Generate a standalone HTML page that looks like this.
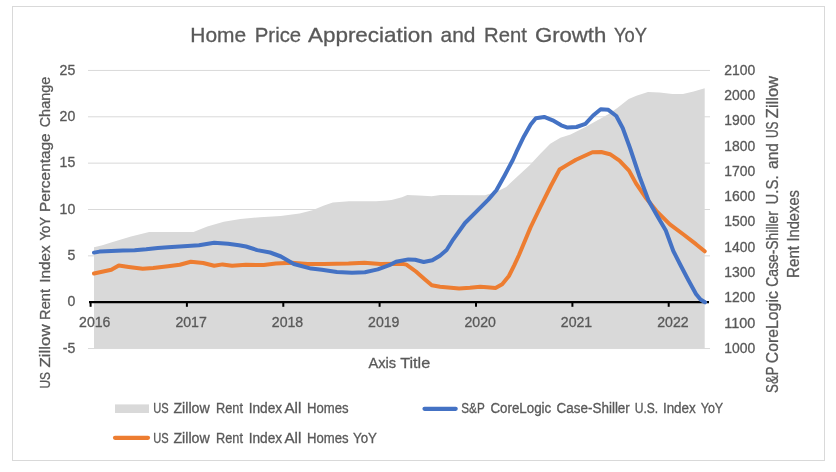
<!DOCTYPE html>
<html><head><meta charset="utf-8"><style>
html,body{margin:0;padding:0;background:#fff;width:836px;height:472px;overflow:hidden}
svg{display:block;will-change:transform}
</style></head><body><svg width="836" height="472" viewBox="0 0 836 472"><rect x="12.5" y="6.5" width="812" height="454" fill="#fff" stroke="#d9d9d9" stroke-width="1"/><line x1="88" y1="70.45" x2="710" y2="70.45" stroke="#d9d9d9" stroke-width="1"/><line x1="88" y1="116.80" x2="710" y2="116.80" stroke="#d9d9d9" stroke-width="1"/><line x1="88" y1="163.15" x2="710" y2="163.15" stroke="#d9d9d9" stroke-width="1"/><line x1="88" y1="209.50" x2="710" y2="209.50" stroke="#d9d9d9" stroke-width="1"/><line x1="88" y1="255.85" x2="710" y2="255.85" stroke="#d9d9d9" stroke-width="1"/><line x1="88" y1="348.55" x2="710" y2="348.55" stroke="#d9d9d9" stroke-width="1"/><path d="M94,348 L94.0,247.2 102.4,245.2 111.9,242.2 131.0,236.4 149.2,232.1 166.0,232.0 193.5,232.0 207.3,226.5 223.8,221.7 240.4,219.0 259.9,217.2 280.6,215.9 299.6,213.5 312.4,210.3 324.0,205.6 332.8,202.6 349.0,201.2 376.0,201.2 386.9,200.5 391.5,200.1 402.0,197.2 407.3,195.1 418.7,195.5 431.7,196.2 440.3,195.1 485.0,195.2 496.0,192.0 506.2,187.0 516.3,177.6 529.9,164.9 540.1,153.9 550.2,143.7 560.4,137.8 570.6,134.4 585.4,127.0 608.3,114.3 617.3,107.9 628.7,99.0 636.4,95.7 648.0,92.0 659.7,92.5 672.4,94.1 683.0,93.9 693.6,91.4 704.7,88.2 L704.7,348 Z" fill="#d9d9d9"/><line x1="89" y1="302.1" x2="709" y2="302.1" stroke="#000" stroke-width="2.3"/><line x1="90.6" y1="301" x2="90.6" y2="306.8" stroke="#000" stroke-width="2"/><line x1="186.9" y1="301" x2="186.9" y2="306.8" stroke="#000" stroke-width="2"/><line x1="283.3" y1="301" x2="283.3" y2="306.8" stroke="#000" stroke-width="2"/><line x1="379.6" y1="301" x2="379.6" y2="306.8" stroke="#000" stroke-width="2"/><line x1="476.0" y1="301" x2="476.0" y2="306.8" stroke="#000" stroke-width="2"/><line x1="572.4" y1="301" x2="572.4" y2="306.8" stroke="#000" stroke-width="2"/><line x1="668.7" y1="301" x2="668.7" y2="306.8" stroke="#000" stroke-width="2"/><polyline points="94.0,273.5 111.3,269.8 118.8,265.5 128.7,266.9 142.7,268.7 153.2,268.0 168.0,266.2 179.8,264.8 190.8,261.7 203.2,263.0 214.2,265.8 222.5,264.4 232.1,265.8 246.0,264.8 263.7,265.1 275.8,263.6 291.7,262.8 307.6,263.9 324.0,263.9 348.5,263.6 364.4,262.8 380.3,264.1 402.0,263.8 406.4,264.6 415.9,271.5 424.4,278.9 431.8,285.3 440.0,286.8 459.1,288.6 470.0,287.8 480.2,286.8 487.0,287.2 495.5,288.0 502.2,284.3 508.9,276.0 514.2,265.3 519.0,255.0 530.5,227.5 540.6,206.5 550.8,186.0 559.6,169.5 567.2,164.9 576.0,159.8 592.4,152.3 601.3,152.0 610.0,154.2 619.5,160.6 629.0,170.6 636.0,183.4 646.2,198.3 656.3,210.8 669.9,224.3 683.5,234.5 696.0,244.2 704.7,251.3" fill="none" stroke="#ed7d31" stroke-width="4.0" stroke-linejoin="round" stroke-linecap="round"/><polyline points="94.0,252.6 99.6,251.6 111.3,251.0 122.9,250.4 134.6,250.2 146.2,249.3 157.8,248.1 168.0,247.3 179.8,246.5 199.0,245.2 214.2,242.8 228.0,243.8 239.0,245.2 246.0,246.5 257.2,250.1 270.1,252.5 280.9,256.5 293.8,264.0 311.1,268.6 321.8,269.8 336.9,272.1 352.0,272.8 364.9,272.2 377.8,269.4 390.7,264.6 396.0,261.8 408.4,259.4 415.1,259.8 423.7,262.0 432.3,260.3 439.9,255.7 446.6,250.0 453.3,239.3 465.0,223.0 476.6,211.3 488.3,199.6 496.4,190.3 504.6,175.5 512.8,160.0 516.3,152.2 523.9,136.4 530.7,124.5 535.8,118.2 544.2,116.9 552.7,120.3 561.2,125.3 567.6,127.6 576.5,127.0 585.4,123.8 593.1,115.5 600.7,109.2 608.3,109.8 616.3,116.0 622.7,128.0 630.0,148.0 639.5,176.5 648.5,200.5 657.6,216.5 665.8,230.5 673.3,251.0 680.7,265.5 688.3,280.0 696.0,294.0 700.5,299.5 705.0,302.3" fill="none" stroke="#4472c4" stroke-width="4.0" stroke-linejoin="round" stroke-linecap="round"/><rect x="115" y="404.4" width="34" height="8.6" fill="#d9d9d9"/><line x1="115" y1="437.8" x2="148" y2="437.8" stroke="#ed7d31" stroke-width="4.2" stroke-linecap="round"/><line x1="424.5" y1="408.8" x2="455.7" y2="408.8" stroke="#4472c4" stroke-width="4.2" stroke-linecap="round"/><g fill="#595959" stroke="#595959" stroke-width="0.3" font-family='"Liberation Sans", sans-serif'><text x="190.30" y="41.7" font-size="21" textLength="55.84" lengthAdjust="spacingAndGlyphs">Home</text><text x="254.80" y="41.7" font-size="21" textLength="46.37" lengthAdjust="spacingAndGlyphs">Price</text><text x="307.90" y="41.7" font-size="21" textLength="124.97" lengthAdjust="spacingAndGlyphs">Appreciation</text><text x="440.60" y="41.7" font-size="21" textLength="34.86" lengthAdjust="spacingAndGlyphs">and</text><text x="484.10" y="41.7" font-size="21" textLength="42.74" lengthAdjust="spacingAndGlyphs">Rent</text><text x="534.90" y="41.7" font-size="21" textLength="71.47" lengthAdjust="spacingAndGlyphs">Growth</text><text x="614.00" y="41.7" font-size="21" textLength="32.97" lengthAdjust="spacingAndGlyphs">YoY</text><text x="75.3" y="74.65" font-size="14.1" text-anchor="end">25</text><text x="75.3" y="121.0" font-size="14.1" text-anchor="end">20</text><text x="75.3" y="167.35" font-size="14.1" text-anchor="end">15</text><text x="75.3" y="213.7" font-size="14.1" text-anchor="end">10</text><text x="75.3" y="260.05" font-size="14.1" text-anchor="end">5</text><text x="75.3" y="306.4" font-size="14.1" text-anchor="end">0</text><text x="75.3" y="352.75" font-size="14.1" text-anchor="end">-5</text><text x="94.8" y="326.8" font-size="14.1" text-anchor="middle">2016</text><text x="191.1" y="326.8" font-size="14.1" text-anchor="middle">2017</text><text x="287.5" y="326.8" font-size="14.1" text-anchor="middle">2018</text><text x="383.8" y="326.8" font-size="14.1" text-anchor="middle">2019</text><text x="480.2" y="326.8" font-size="14.1" text-anchor="middle">2020</text><text x="576.5" y="326.8" font-size="14.1" text-anchor="middle">2021</text><text x="672.9" y="326.8" font-size="14.1" text-anchor="middle">2022</text><text x="724.2" y="352.8" font-size="14.1" text-anchor="start" textLength="31" lengthAdjust="spacingAndGlyphs">1000</text><text x="724.2" y="327.53" font-size="14.1" text-anchor="start" textLength="31" lengthAdjust="spacingAndGlyphs">1100</text><text x="724.2" y="302.26" font-size="14.1" text-anchor="start" textLength="31" lengthAdjust="spacingAndGlyphs">1200</text><text x="724.2" y="276.99" font-size="14.1" text-anchor="start" textLength="31" lengthAdjust="spacingAndGlyphs">1300</text><text x="724.2" y="251.72" font-size="14.1" text-anchor="start" textLength="31" lengthAdjust="spacingAndGlyphs">1400</text><text x="724.2" y="226.45" font-size="14.1" text-anchor="start" textLength="31" lengthAdjust="spacingAndGlyphs">1500</text><text x="724.2" y="201.18" font-size="14.1" text-anchor="start" textLength="31" lengthAdjust="spacingAndGlyphs">1600</text><text x="724.2" y="175.91" font-size="14.1" text-anchor="start" textLength="31" lengthAdjust="spacingAndGlyphs">1700</text><text x="724.2" y="150.64" font-size="14.1" text-anchor="start" textLength="31" lengthAdjust="spacingAndGlyphs">1800</text><text x="724.2" y="125.37" font-size="14.1" text-anchor="start" textLength="31" lengthAdjust="spacingAndGlyphs">1900</text><text x="724.2" y="100.1" font-size="14.1" text-anchor="start" textLength="31" lengthAdjust="spacingAndGlyphs">2000</text><text x="724.2" y="74.83" font-size="14.1" text-anchor="start" textLength="31" lengthAdjust="spacingAndGlyphs">2100</text><text x="368.40" y="367.8" font-size="15.3" textLength="27.69" lengthAdjust="spacingAndGlyphs">Axis</text><text x="400.20" y="367.8" font-size="15.3" textLength="30.03" lengthAdjust="spacingAndGlyphs">Title</text><text x="153.30" y="412.9" font-size="13.8" textLength="15.39" lengthAdjust="spacingAndGlyphs">US</text><text x="173.40" y="412.9" font-size="13.8" textLength="36.34" lengthAdjust="spacingAndGlyphs">Zillow</text><text x="216.00" y="412.9" font-size="13.8" textLength="26.93" lengthAdjust="spacingAndGlyphs">Rent</text><text x="248.70" y="412.9" font-size="13.8" textLength="33.45" lengthAdjust="spacingAndGlyphs">Index</text><text x="284.50" y="412.9" font-size="13.8" textLength="16.82" lengthAdjust="spacingAndGlyphs">All</text><text x="307.00" y="412.9" font-size="13.8" textLength="41.57" lengthAdjust="spacingAndGlyphs">Homes</text><text x="153.30" y="442.9" font-size="13.8" textLength="15.39" lengthAdjust="spacingAndGlyphs">US</text><text x="173.40" y="442.9" font-size="13.8" textLength="36.34" lengthAdjust="spacingAndGlyphs">Zillow</text><text x="216.00" y="442.9" font-size="13.8" textLength="26.93" lengthAdjust="spacingAndGlyphs">Rent</text><text x="248.70" y="442.9" font-size="13.8" textLength="33.45" lengthAdjust="spacingAndGlyphs">Index</text><text x="284.50" y="442.9" font-size="13.8" textLength="16.82" lengthAdjust="spacingAndGlyphs">All</text><text x="307.00" y="442.9" font-size="13.8" textLength="41.57" lengthAdjust="spacingAndGlyphs">Homes</text><text x="353.10" y="442.9" font-size="13.8" textLength="23.88" lengthAdjust="spacingAndGlyphs">YoY</text><text x="461.30" y="412.9" font-size="13.8" textLength="23.41" lengthAdjust="spacingAndGlyphs">S&amp;P</text><text x="490.40" y="412.9" font-size="13.8" textLength="60.87" lengthAdjust="spacingAndGlyphs">CoreLogic</text><text x="556.60" y="412.9" font-size="13.8" textLength="73.25" lengthAdjust="spacingAndGlyphs">Case-Shiller</text><text x="634.70" y="412.9" font-size="13.8" textLength="23.46" lengthAdjust="spacingAndGlyphs">U.S.</text><text x="662.90" y="412.9" font-size="13.8" textLength="32.95" lengthAdjust="spacingAndGlyphs">Index</text><text x="700.70" y="412.9" font-size="13.8" textLength="22.48" lengthAdjust="spacingAndGlyphs">YoY</text><g transform="translate(50.2,0) rotate(-90)"><text x="-388.50" y="0" font-size="14.6" textLength="16.59" lengthAdjust="spacingAndGlyphs">US</text><text x="-367.50" y="0" font-size="14.6" textLength="43.13" lengthAdjust="spacingAndGlyphs">Zillow</text><text x="-319.90" y="0" font-size="14.6" textLength="30.83" lengthAdjust="spacingAndGlyphs">Rent</text><text x="-282.80" y="0" font-size="14.6" textLength="37.34" lengthAdjust="spacingAndGlyphs">Index</text><text x="-240.40" y="0" font-size="14.6" textLength="23.38" lengthAdjust="spacingAndGlyphs">YoY</text><text x="-212.10" y="0" font-size="14.6" textLength="78.77" lengthAdjust="spacingAndGlyphs">Percentage</text><text x="-127.30" y="0" font-size="14.6" textLength="50.54" lengthAdjust="spacingAndGlyphs">Change</text></g><g transform="translate(778,0) rotate(-90)"><text x="-392.90" y="0" font-size="15.6" textLength="26.41" lengthAdjust="spacingAndGlyphs">S&amp;P</text><text x="-363.20" y="0" font-size="15.6" textLength="71.97" lengthAdjust="spacingAndGlyphs">CoreLogic</text><text x="-286.80" y="0" font-size="15.6" textLength="75.75" lengthAdjust="spacingAndGlyphs">Case-Shiller</text><text x="-204.40" y="0" font-size="15.6" textLength="28.97" lengthAdjust="spacingAndGlyphs">U.S.</text><text x="-169.00" y="0" font-size="15.6" textLength="25.97" lengthAdjust="spacingAndGlyphs">and</text><text x="-138.00" y="0" font-size="15.6" textLength="16.49" lengthAdjust="spacingAndGlyphs">US</text><text x="-118.20" y="0" font-size="15.6" textLength="42.23" lengthAdjust="spacingAndGlyphs">Zillow</text></g><g transform="translate(798.5,0) rotate(-90)"><text x="-277.90" y="0" font-size="15.6" textLength="31.93" lengthAdjust="spacingAndGlyphs">Rent</text><text x="-241.60" y="0" font-size="15.6" textLength="51.53" lengthAdjust="spacingAndGlyphs">Indexes</text></g></g></svg></body></html>
